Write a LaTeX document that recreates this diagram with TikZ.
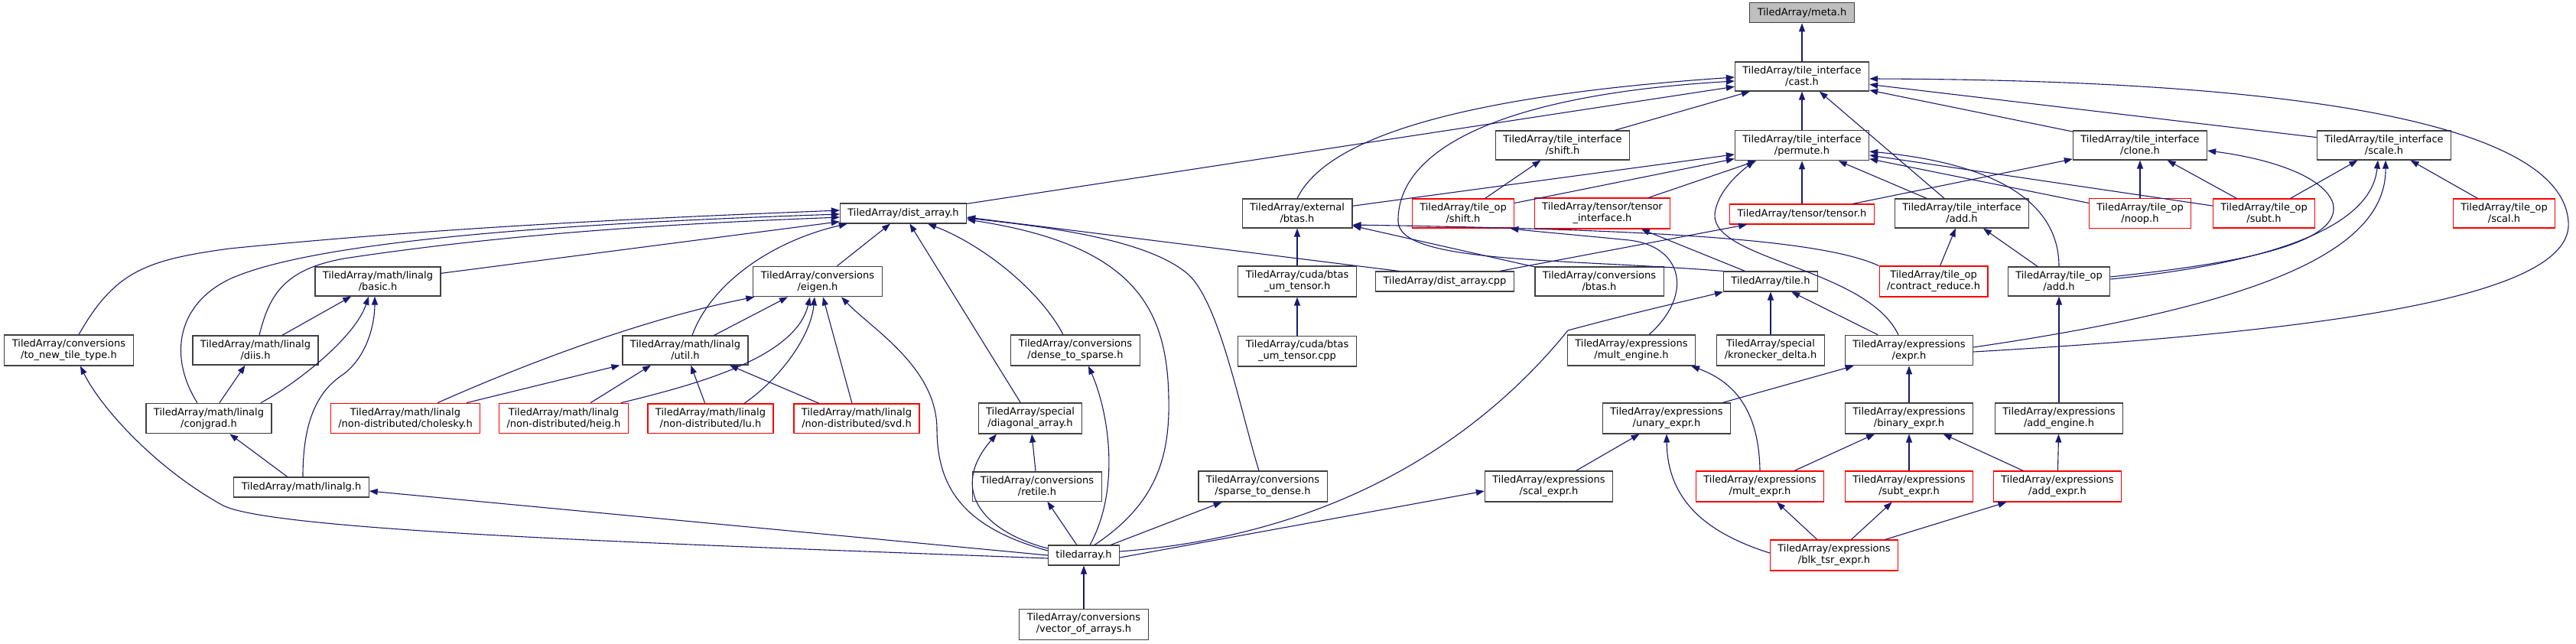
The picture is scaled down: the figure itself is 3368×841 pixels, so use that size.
\documentclass[tikz,border=0pt]{standalone}
\usepackage{fontspec}
\setmainfont{DejaVu Sans}
\usetikzlibrary{arrows.meta,positioning}
\definecolor{DXedge}{RGB}{25,25,112}
\definecolor{DXframe}{RGB}{64,64,64}
\definecolor{DXred}{RGB}{255,0,0}
\definecolor{DXroot}{RGB}{191,191,191}
\tikzset{
  hdr/.style={draw=DXframe,line width=1.1pt,fill=white,align=center,
              font=\fontsize{13}{15}\selectfont,inner xsep=10pt,inner ysep=6pt,
              minimum height=26pt},
  hdrred/.style={hdr,draw=DXred},
  hdrroot/.style={hdr,fill=DXroot},
  inc/.style={-{Triangle[length=11pt,width=8pt]},line width=1.1pt,draw=DXedge}
}

\begin{document}
\begin{tikzpicture}[x=1pt,y=-1pt]
  \useasboundingbox (0,0) rectangle (3368,841);
  % tile interface level
  \node[hdr] (cast) at (2356,100) {TiledArray/tile\_interface\\/cast.h};
  \node[hdrroot,above=50pt of cast] (meta) {TiledArray/meta.h};
  \node[hdr] (tishift) at (2043,190) {TiledArray/tile\_interface\\/shift.h};
  \node[hdr] (permute) at (2356,190) {TiledArray/tile\_interface\\/permute.h};
  \node[hdr] (clone) at (2798,190) {TiledArray/tile\_interface\\/clone.h};
  \node[hdr] (scale) at (3117,190) {TiledArray/tile\_interface\\/scale.h};
  % row 3
  \node[hdr] (dist) at (1181,279) {TiledArray/dist\_array.h};
  \node[hdr] (extbtas) at (1696,279) {TiledArray/external\\/btas.h};
  \node[hdrred] (opshift) at (1913,279) {TiledArray/tile\_op\\/shift.h};
  \node[hdrred] (tensorif) at (2095,279) {TiledArray/tensor/tensor\\\_interface.h};
  \node[hdrred] (tensor) at (2356,280) {TiledArray/tensor/tensor.h};
  \node[hdr] (tiadd) at (2565,279) {TiledArray/tile\_interface\\/add.h};
  \node[hdrred] (noop) at (2798,279) {TiledArray/tile\_op\\/noop.h};
  \node[hdrred] (subt) at (2960,279) {TiledArray/tile\_op\\/subt.h};
  \node[hdrred] (scal) at (3274,279) {TiledArray/tile\_op\\/scal.h};
  % row 4
  \node[hdr] (basic) at (494,368) {TiledArray/math/linalg\\/basic.h};
  \node[hdr] (eigen) at (1069,368) {TiledArray/conversions\\/eigen.h};
  \node[hdr] (umtensor) at (1696,368) {TiledArray/cuda/btas\\\_um\_tensor.h};
  \node[hdr] (distcpp) at (1889,368) {TiledArray/dist\_array.cpp};
  \node[hdr] (convbtas) at (2091,368) {TiledArray/conversions\\/btas.h};
  \node[hdr] (tile) at (2315,368) {TiledArray/tile.h};
  \node[hdrred] (contred) at (2528,368) {TiledArray/tile\_op\\/contract\_reduce.h};
  \node[hdr] (opadd) at (2692,368) {TiledArray/tile\_op\\/add.h};
  % row 5
  \node[hdr] (newtile) at (90,458) {TiledArray/conversions\\/to\_new\_tile\_type.h};
  \node[hdr] (diis) at (334,458) {TiledArray/math/linalg\\/diis.h};
  \node[hdr] (util) at (896,458) {TiledArray/math/linalg\\/util.h};
  \node[hdr] (d2s) at (1406,458) {TiledArray/conversions\\/dense\_to\_sparse.h};
  \node[hdr,below=50pt of umtensor] (umcpp) {TiledArray/cuda/btas\\\_um\_tensor.cpp};
  \node[hdr] (multeng) at (2133,458) {TiledArray/expressions\\/mult\_engine.h};
  \node[hdr] (kron) at (2315,458) {TiledArray/special\\/kronecker\_delta.h};
  \node[hdr] (expr) at (2496,458) {TiledArray/expressions\\/expr.h};
  % row 6
  \node[hdr] (conjgrad) at (273,547) {TiledArray/math/linalg\\/conjgrad.h};
  \node[hdrred] (chol) at (530,547) {TiledArray/math/linalg\\/non-distributed/cholesky.h};
  \node[hdrred] (heig) at (737,547) {TiledArray/math/linalg\\/non-distributed/heig.h};
  \node[hdrred] (lu) at (929,547) {TiledArray/math/linalg\\/non-distributed/lu.h};
  \node[hdrred] (svd) at (1120,547) {TiledArray/math/linalg\\/non-distributed/svd.h};
  \node[hdr] (diag) at (1347,547) {TiledArray/special\\/diagonal\_array.h};
  \node[hdr] (unary) at (2179,547) {TiledArray/expressions\\/unary\_expr.h};
  \node[hdr] (binary) at (2496,547) {TiledArray/expressions\\/binary\_expr.h};
  \node[hdr] (addeng) at (2692,547) {TiledArray/expressions\\/add\_engine.h};
  % row 7
  \node[hdr] (linalg) at (394,637) {TiledArray/math/linalg.h};
  \node[hdr] (retile) at (1356,636) {TiledArray/conversions\\/retile.h};
  \node[hdr] (s2d) at (1651,636) {TiledArray/conversions\\/sparse\_to\_dense.h};
  \node[hdr] (scalexpr) at (2025,636) {TiledArray/expressions\\/scal\_expr.h};
  \node[hdrred] (multexpr) at (2301,636) {TiledArray/expressions\\/mult\_expr.h};
  \node[hdrred] (subtexpr) at (2496,636) {TiledArray/expressions\\/subt\_expr.h};
  \node[hdrred] (addexpr) at (2690,636) {TiledArray/expressions\\/add\_expr.h};
  % bottom
  \node[hdr] (tiledarray) at (1417,726) {tiledarray.h};
  \node[hdrred] (blk) at (2398,726) {TiledArray/expressions\\/blk\_tsr\_expr.h};
  \node[hdr,below=56pt of tiledarray] (vecarr) {TiledArray/conversions\\/vector\_of\_arrays.h};

  % edges into the tile interface
  \draw[inc] (cast) -- (meta);
  \draw[inc] (tishift) -- (cast);
  \draw[inc] (permute) -- (cast);
  \draw[inc] (tiadd) -- (cast);
  \draw[inc] (clone) -- (cast);
  \draw[inc] (scale) -- (cast);
  \draw[inc] (dist) -- (cast);
  \draw[inc] (extbtas.north) .. controls (1725,200) and (1840,130) .. ([yshift=-1pt]cast.west);
  \draw[inc] (tile.north west) .. controls (2050,338) and (1830,345) .. (1828,290)
    .. controls (1826,200) and (1950,125) .. ([yshift=-6pt]cast.west);
  \draw[inc] ([yshift=-2pt]expr.east) .. controls (3100,430) and (3365,380) .. (3358,290)
    .. controls (3350,170) and (3050,105) .. ([yshift=-3pt]cast.east);
  \draw[inc] (opshift) -- (tishift);
  \draw[inc] (extbtas) -- (permute);
  \draw[inc] (opshift) -- (permute);
  \draw[inc] (tensorif) -- (permute);
  \draw[inc] (tensor) -- (permute);
  \draw[inc] (tiadd) -- (permute);
  \draw[inc] ([xshift=-14pt]expr.north) .. controls (2440,350) and (2238,340) .. (2242,280)
    .. controls (2245,250) and (2275,225) .. ([xshift=-62pt]permute.south);
  \draw[inc] (opadd.north) .. controls (2692,270) and (2620,215) .. ([yshift=-8pt]permute.east);
  \draw[inc] (noop) -- (permute);
  \draw[inc] (subt) -- (permute);
  \draw[inc] (tensor) -- (clone);
  \draw[inc] (noop) -- (clone);
  \draw[inc] (subt) -- (clone);
  \draw[inc] (subt) -- (scale);
  \draw[inc] (scal) -- (scale);
  \draw[inc] ([yshift=6pt]opadd.east) .. controls (2920,345) and (3065,320) .. (3050,265)
    .. controls (3035,225) and (2950,205) .. ([yshift=-7pt]clone.east);
  \draw[inc] ([yshift=3pt]opadd.east) .. controls (2960,345) and (3100,300) .. ([xshift=-8pt]scale.south);
  \draw[inc] ([yshift=4pt]expr.east) .. controls (2950,400) and (3120,330) .. ([xshift=2pt]scale.south);
  \draw[inc] (contred) -- (tiadd);
  \draw[inc] (opadd) -- (tiadd);
  \draw[inc] (addeng) -- (opadd);

  % middle
  \draw[inc] (tile) -- (tensorif);
  \draw[inc] (distcpp) -- (tensor);
  \draw[inc] ([xshift=-60pt]distcpp.north) -- ([yshift=-5pt]dist.east);
  \draw[inc] (convbtas) -- (extbtas);
  \draw[inc] (contred.north west) .. controls (2380,312) and (2150,300) .. ([yshift=-15pt]extbtas.east);
  \draw[inc] (umtensor) -- (extbtas);
  \draw[inc] (umcpp) -- (umtensor);
  \draw[inc] ([xshift=23pt]multeng.north) .. controls (2215,385) and (2200,322) .. (2130,314)
    .. controls (2060,307) and (2010,303) .. ([xshift=-6pt]opshift.south east);
  \draw[inc] (kron) -- (tile);
  \draw[inc] (expr) -- (tile);
  \draw[inc] ([yshift=5pt]tiledarray.east) .. controls (1740,700) and (1930,580) .. (2050,432)
    .. controls (2150,405) and (2220,390) .. (tile.south west);
  \draw[inc] ([yshift=-3pt]tiledarray.east) -- ([yshift=-6pt]scalexpr.west);
  \draw[inc] (scalexpr) -- (unary);
  \draw[inc] ([yshift=3pt]blk.west) .. controls (2225,695) and (2180,650) .. (unary.south);
  \draw[inc] (unary) -- (expr);
  \draw[inc] (binary) -- (expr);
  \draw[inc] (multexpr) -- (binary);
  \draw[inc] (subtexpr) -- (binary);
  \draw[inc] (addexpr) -- (binary);
  \draw[inc] (blk) -- (multexpr);
  \draw[inc] (blk) -- (subtexpr);
  \draw[inc] (blk) -- (addexpr);
  \draw[inc] (multexpr.north) .. controls (2300,540) and (2270,500) .. ([xshift=78pt]multeng.south);
  \draw[inc] (addexpr) -- (addeng);

  % dist_array and the left side
  \draw[inc] ([xshift=13pt]newtile.north) .. controls (150,355) and (190,340) .. (300,325)
    .. controls (600,295) and (900,283) .. ([yshift=4pt]dist.west);
  \draw[inc] ([xshift=-15pt]conjgrad.north) .. controls (222,470) and (228,400) .. (300,365)
    .. controls (420,310) and (800,290) .. ([yshift=-1pt]dist.west);
  \draw[inc] ([xshift=5pt]diis.north) .. controls (352,385) and (372,352) .. (450,338)
    .. controls (700,300) and (950,290) .. ([yshift=-5pt]dist.west);
  \draw[inc] (basic) -- (dist);
  \draw[inc] ([xshift=9pt]util.north) .. controls (930,370) and (1010,315) .. ([xshift=10pt]dist.south west);
  \draw[inc] (eigen) -- (dist);
  \draw[inc] (diag) -- (dist);
  \draw[inc] ([xshift=-16pt]d2s.north) .. controls (1360,380) and (1285,320) .. ([xshift=32pt]dist.south);
  \draw[inc] ([xshift=14pt]tiledarray.north) .. controls (1510,660) and (1530,600) .. (1528,520)
    .. controls (1526,400) and (1480,320) .. ([yshift=-8pt]dist.east);
  \draw[inc] ([xshift=-5pt]s2d.north) .. controls (1620,530) and (1595,400) .. (1555,360)
    .. controls (1500,310) and (1350,295) .. ([yshift=-6pt]dist.east);
  \draw[inc] ([yshift=6pt]tiledarray.west) .. controls (1262,690) and (1225,640) .. (1225,560)
    .. controls (1224,480) and (1140,430) .. ([xshift=31pt]eigen.south);
  \draw[inc] ([yshift=9pt]tiledarray.west) .. controls (1285,695) and (1240,640) .. ([xshift=-44pt]diag.south);
  \draw[inc] (retile) -- (diag);
  \draw[inc] (tiledarray) -- (retile);
  \draw[inc] ([xshift=8pt]tiledarray.north) .. controls (1465,640) and (1450,540) .. ([xshift=17pt]d2s.south);
  \draw[inc] (tiledarray) -- (s2d);
  \draw[inc] (tiledarray.west) -- ([yshift=-5pt]linalg.east);
  \draw[inc] ([yshift=-4pt]tiledarray.west) .. controls (900,712) and (350,695) .. (290,660)
    .. controls (200,610) and (130,530) .. ([xshift=15pt]newtile.south);
  \draw[inc] (vecarr) -- (tiledarray);

  % linear algebra
  \draw[inc] (linalg) -- (conjgrad);
  \draw[inc] ([xshift=2pt]linalg.north) .. controls (396,560) and (410,515) .. (448,490)
    .. controls (482,465) and (490,420) .. ([xshift=-4pt]basic.south);
  \draw[inc] ([xshift=68pt]conjgrad.north) .. controls (390,500) and (465,440) .. ([xshift=-12pt]basic.south);
  \draw[inc] (conjgrad) -- (diis);
  \draw[inc] (diis) -- (basic);
  \draw[inc] ([xshift=42pt]chol.north) .. controls (700,470) and (850,415) .. ([xshift=2pt]eigen.south west);
  \draw[inc] ([xshift=80pt]chol.north) -- ([xshift=-3pt]util.south west);
  \draw[inc] ([xshift=35pt]heig.north) -- ([xshift=-45pt]util.south);
  \draw[inc] ([xshift=75pt]heig.north) .. controls (900,505) and (1040,470) .. ([xshift=-10pt]eigen.south);
  \draw[inc] (lu) -- (util);
  \draw[inc] ([xshift=44pt]lu.north) .. controls (1020,495) and (1060,440) .. ([xshift=-4pt]eigen.south);
  \draw[inc] ([xshift=-49pt]svd.north) -- ([xshift=58pt]util.south);
  \draw[inc] ([xshift=-6pt]svd.north) -- ([xshift=7pt]eigen.south);
  \draw[inc] (util) -- (eigen);
\end{tikzpicture}
\end{document}
